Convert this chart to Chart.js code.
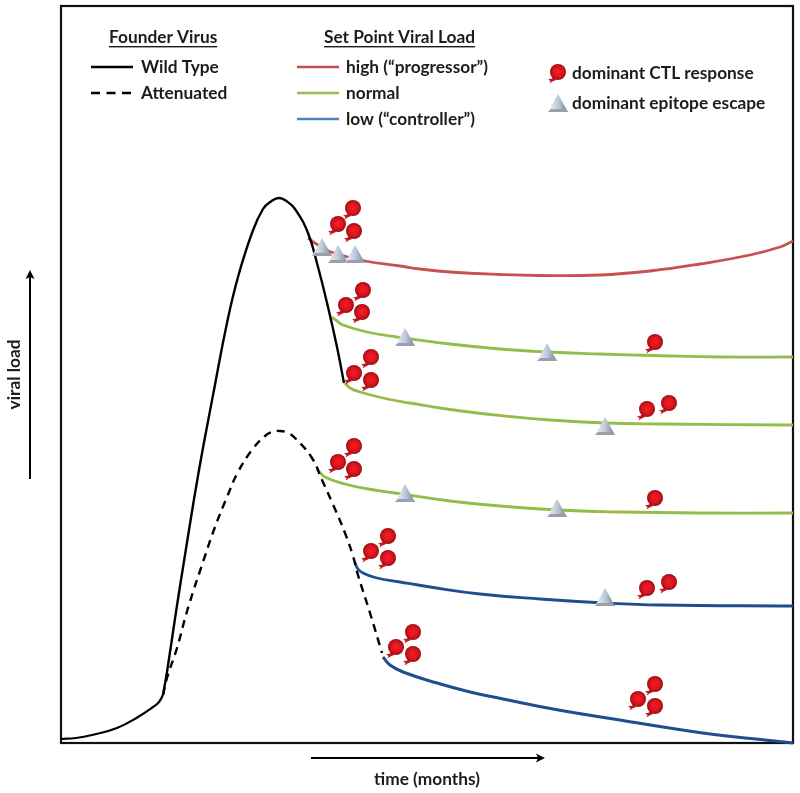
<!DOCTYPE html>
<html><head><meta charset="utf-8">
<style>html,body{margin:0;padding:0;background:#fff}canvas{display:block}</style>
<script src="https://cdn.jsdelivr.net/npm/chart.js@4"></script>
</head><body><canvas id="c" width="800" height="793"></canvas>
<script>
const wildEarlyX=[0,15,31,56,77,92,98,102];
const wildEarlyY=[4,5,8,15,26,36,41,48];
const wildX=[102,106,115,124,138,153,166,177,191,202,210,218,226,234,247,257,267,276,283];
const wildY=[48,71,131,188,273,353,420,466,510,534,541.5,545,541.5,534,510,476,436,396,360];
const attenX=[102,106,116,127,144,154,166,177,191,204,211,219,227,234,251,261,274,284,292,297,309,321];
const attenY=[48,65,95,135,187,216,246,271,293,307,311,312,310,305,285,263,234,210,187,168,130,90];
const highX=[247,257,270,304,339,359,389,439,479,539,589,639,689,719,732];
const highY=[505,498,491,482,477,474,471,468.5,467.5,468,472,479,488,496,502];
const normalAX=[271,276,282,306,336,389,439,486,539,594,659,732];
const normalAY=[426,422,418,411,406,399,394,391,389,387.5,386,386];
const normalBX=[284,289,299,322,349,389,439,489,544,599,732];
const normalBY=[360,355,351,345,340,333.5,327.5,323,320,319,318];
const normalCX=[256,264,284,307,334,389,439,496,559,639,732];
const normalCY=[274,266,259,254,250,242,237,233,231,230,230];
const lowAX=[294,297,302,314,339,369,419,479,544,599,732];
const lowAY=[180,174,170,165.5,161,156,149,144,140,138,137];
const lowBX=[322,329,342,376,409,442,476,509,559,602,653,704,732];
const lowBY=[86,78,71,60,51,44,37,31,23,16,8.5,3,0];
const ctlX=[292,277,293,302,285,301,310,293,310,594,608,586,293,277,293,327,310,327,352,335,352,594,577,594,594,608,586];
const ctlY=[535,519,512,453,438,431,386,370,363,401,340,334,297,281,274,207,192,185,111,96,89,59,44,37,245,161,155];
const escX=[261,277,294,344,486,544,344,496,544];
const escY=[496,489,489,406,391,317,250,235,146];
const founderLabels=["Wild Type","Attenuated"];
const setPointLabels=["high (“progressor”)","normal","low (“controller”)"];
const markerLabels=["dominant CTL response","dominant epitope escape"];
const BLACK="#000",RED="#c8504f",GREEN="#94bc4a",BLUE="#1d4f8e";
const FONT="700 17.3px Lato";

function ctlIcon(){
  const s=30,c=document.createElement('canvas');c.width=c.height=s;
  const g=c.getContext('2d'),m=s/2;
  g.fillStyle="#c8141c";
  g.beginPath();g.moveTo(m-4,m+5);g.lineTo(m-6,m+6.5);g.lineTo(m-10,m+7.5);g.lineTo(m-7.5,m+9);g.lineTo(m-8.5,m+11.5);g.lineTo(m-5.5,m+9.5);g.lineTo(m-2,m+8);g.closePath();g.fill();
  const r=g.createRadialGradient(m,m-.5,1,m,m,8);
  r.addColorStop(0,"#f01c24");r.addColorStop(.6,"#d8141c");r.addColorStop(.9,"#a80f16");r.addColorStop(1,"#8c0d12");
  g.fillStyle=r;g.beginPath();g.arc(m,m,8,0,Math.PI*2);g.fill();
  return c;
}
function escIcon(){
  const s=30,c=document.createElement('canvas');c.width=c.height=s;
  const g=c.getContext('2d'),m=s/2;
  const l=g.createLinearGradient(m-8,0,m+9,0);
  l.addColorStop(0,"#e6ebf2");l.addColorStop(.5,"#bcc8d9");l.addColorStop(1,"#7f8998");
  g.fillStyle=l;g.beginPath();g.moveTo(m,m-9);g.lineTo(m+10,m+9);g.lineTo(m-10,m+9);g.closePath();g.fill();
  g.fillStyle="#99a0ac";g.beginPath();g.moveTo(m-10,m+9);g.lineTo(m+10,m+9);g.lineTo(m+7,m+6);g.lineTo(m-7,m+6);g.closePath();g.fill();
  return c;
}
const CTL=ctlIcon(),ESC=escIcon();
const zip=(xs,ys)=>xs.map((x,i)=>({x,y:ys[i]}));
const line=(label,xs,ys,color,width,extra)=>Object.assign({label,data:zip(xs,ys),borderColor:color,borderWidth:width,pointRadius:0,tension:0.45,fill:false,showLine:true,order:5,clip:false},extra||{});

const overlay={id:'overlay',
 beforeDatasetsDraw(ch){const a=ch.chartArea,g=ch.ctx;g.save();g.strokeStyle="#111";g.lineWidth=2.2;g.strokeRect(a.left,a.top,a.right-a.left,a.bottom-a.top);g.restore();},
 afterDraw(ch){
  const g=ch.ctx;g.save();
  const text=(t,x,y,u)=>{g.font=FONT;g.fillStyle="#1c1c1c";g.textAlign='left';g.textBaseline='middle';g.fillText(t,x,y);
    if(u){const w=g.measureText(t).width;g.fillRect(x,y+9,w,1.4);}};
  const seg=(x0,x1,y,col,dash)=>{g.strokeStyle=col;g.lineWidth=2.4;g.setLineDash(dash||[]);g.beginPath();g.moveTo(x0,y);g.lineTo(x1,y);g.stroke();g.setLineDash([]);};
  text("Founder Virus",109,37,true);
  text("Set Point Viral Load",324,37,true);
  seg(91,133,67,BLACK);text(founderLabels[0],141,67);
  seg(91,133,93,BLACK,[9,6.5]);text(founderLabels[1],141,93);
  seg(297,339,67,"#c0504d");text(setPointLabels[0],346,67);
  seg(297,339,93,"#9bbb59");text(setPointLabels[1],346,93);
  seg(297,339,119,"#4f81bd");text(setPointLabels[2],346,119);
  g.drawImage(CTL,558-15,72-15);text(markerLabels[0],572,73);
  g.drawImage(ESC,558-15,103-15);text(markerLabels[1],572,103);
  g.strokeStyle="#000";g.fillStyle="#000";g.lineWidth=2;
  g.beginPath();g.moveTo(30,479);g.lineTo(30,274);g.stroke();
  g.beginPath();g.moveTo(30,270);g.lineTo(25.5,279);g.lineTo(30,277);g.lineTo(34.5,279);g.closePath();g.fill();
  g.beginPath();g.moveTo(311,758);g.lineTo(541,758);g.stroke();
  g.beginPath();g.moveTo(545,758);g.lineTo(536,753.5);g.lineTo(538,758);g.lineTo(536,762.5);g.closePath();g.fill();
  g.restore();
 }};

new Chart(document.getElementById('c'),{
 type:'scatter',
 data:{datasets:[
  {label:"dominant CTL response",data:zip(ctlX,ctlY),pointStyle:CTL,pointRadius:15,showLine:false,order:1,clip:false},
  {label:"dominant epitope escape",data:zip(escX,escY),pointStyle:ESC,pointRadius:15,showLine:false,order:0,clip:false},
  line("Wild Type",wildEarlyX,wildEarlyY,BLACK,2.2,{order:3}),
  line("Wild Type rise",wildX,wildY,BLACK,2.4,{order:3}),
  line("Attenuated",attenX,attenY,BLACK,2.4,{order:3,borderDash:[8,6]}),
  line("high",highX,highY,RED,2.8),
  line("normal A",normalAX,normalAY,GREEN,2.8),
  line("normal B",normalBX,normalBY,GREEN,2.8),
  line("normal C",normalCX,normalCY,GREEN,2.8),
  line("low A",lowAX,lowAY,BLUE,2.8),
  line("low B",lowBX,lowBY,BLUE,3)
 ]},
 options:{responsive:false,animation:false,events:[],
  layout:{autoPadding:false,padding:{top:6,right:7,bottom:0,left:0}},
  plugins:{legend:{display:false},tooltip:{enabled:false}},
  scales:{
   x:{type:'linear',min:0,max:732,grid:{display:false},border:{display:false},ticks:{display:false},
      title:{display:true,text:"time (months)",color:"#1c1c1c",font:{family:"Lato",size:17.3,weight:"700"},padding:{top:21,bottom:3.5}},
      afterFit(s){s.height=50;s.paddingLeft=0;s.paddingRight=0;}},
   y:{type:'linear',min:0,max:737,grid:{display:false},border:{display:false},ticks:{display:false},
      title:{display:true,text:"viral load",color:"#1c1c1c",font:{family:"Lato",size:17.3,weight:"700"},padding:{top:4,bottom:0}},
      afterFit(s){s.width=61;s.paddingTop=0;s.paddingBottom=0;}}
  }},
 plugins:[overlay]
});
</script></body></html>
